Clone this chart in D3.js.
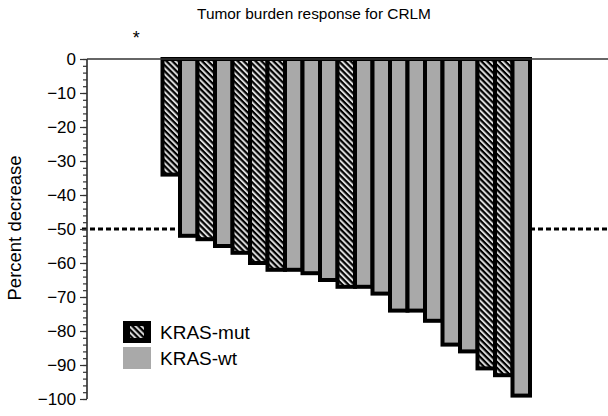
<!DOCTYPE html>
<html>
<head>
<meta charset="utf-8">
<script src="https://cdn.jsdelivr.net/npm/d3@7"></script>
<style>
  body { margin: 0; background: #fff; }
  svg { display: block; font-family: "Liberation Sans", Arial, sans-serif; }
</style>
</head>
<body>
<svg id="chart" width="608" height="416"></svg>
<script>
// patients in waterfall order; the first two slots carry no bar
var patients = ["p1","p2","p3","p4","p5","p6","p7","p8","p9","p10","p11","p12",
  "p13","p14","p15","p16","p17","p18","p19","p20","p21","p22","p23"];
var change = [null, null, -34, -52, -53, -55, -57, -60, -62, -62, -63, -65,
  -67, -67, -69, -74, -74, -77, -84, -86, -91, -93, -99];
var kras = ["", "", "mut", "wt", "mut", "wt", "mut", "mut", "mut", "wt", "wt", "wt",
  "mut", "wt", "wt", "wt", "wt", "wt", "wt", "wt", "mut", "mut", "wt"];
var notes = ["*", "", "", "", "", "", "", "", "", "", "", "", "", "", "", "", "", "", "", "", "", "", ""];
var yTicks = [0, -10, -20, -30, -40, -50, -60, -70, -80, -90, -100];
var cutoff = -50;
var legendLabels = ["KRAS-mut", "KRAS-wt"];

var svg = d3.select("#chart");
var axisX = 87, plotRight = 608;

var y = d3.scaleLinear().domain([-100, 0]).range([399, 59]);
var x = d3.scaleBand().domain(patients).range([127.5, 530]).padding(0);

var defs = svg.append("defs");
var pat = defs.append("pattern")
  .attr("id", "hatch")
  .attr("patternUnits", "userSpaceOnUse")
  .attr("width", 4.2).attr("height", 4.2)
  .attr("patternTransform", "rotate(-45)");
pat.append("rect").attr("width", 4.2).attr("height", 4.2).attr("fill", "#000");
pat.append("rect").attr("width", 2).attr("height", 4.2).attr("fill", "#dcdcdc");

function fillFor(k) { return k == "mut" ? "url(#hatch)" : "#a9a9a9"; }

// title
svg.append("text")
  .attr("x", 314).attr("y", 19)
  .attr("text-anchor", "middle")
  .style("font-size", "15.4px")
  .text("Tumor burden response for CRLM");

// y label
svg.append("text")
  .attr("transform", "translate(21,228) rotate(-90)")
  .attr("text-anchor", "middle")
  .style("font-size", "18.5px")
  .text("Percent decrease");

// cutoff line (behind bars)
svg.append("line")
  .attr("x1", axisX - 5).attr("x2", plotRight)
  .attr("y1", y(cutoff)).attr("y2", y(cutoff))
  .attr("stroke", "#000").attr("stroke-width", 3)
  .attr("stroke-dasharray", "5,3");

var data = patients.map(function (p, i) {
  return { id: p, value: change[i], kras: kras[i], note: notes[i] };
});

svg.selectAll(".bar")
  .data(data.filter(function (d) { return d.value != null; }))
  .enter()
  .append("rect")
  .attr("class", "bar")
  .attr("x", function (d) { return x(d.id); })
  .attr("y", y(0))
  .attr("width", x.bandwidth())
  .attr("height", function (d) { return y(d.value) - y(0); })
  .attr("fill", function (d) { return fillFor(d.kras); })
  .attr("stroke", "#000")
  .attr("stroke-width", 4);

// zero line
svg.append("line")
  .attr("x1", axisX).attr("x2", plotRight)
  .attr("y1", y(0)).attr("y2", y(0))
  .attr("stroke", "#333").attr("stroke-width", 1.5);

// asterisk notes
svg.selectAll(".note")
  .data(data.filter(function (d) { return d.note; }))
  .enter()
  .append("text")
  .attr("x", function (d) { return x(d.id) + x.bandwidth() / 2; })
  .attr("y", 44)
  .attr("text-anchor", "middle")
  .style("font-size", "18px")
  .text(function (d) { return d.note; });

// y axis with minor ticks
var minor = d3.range(0, -101, -2);
var yAxis = svg.append("g").attr("transform", "translate(" + axisX + ",0)");
yAxis.call(d3.axisLeft(y).tickValues(minor).tickSize(4).tickFormat(""));
var major = svg.append("g").attr("transform", "translate(" + axisX + ",0)");
major.call(d3.axisLeft(y).tickValues(yTicks).tickSize(7).tickPadding(4)
  .tickFormat(function (d) { return d == 0 ? "0" : "\u2212" + Math.abs(d); }));
svg.selectAll(".domain").attr("stroke", "#333").attr("stroke-width", 1.2);
svg.selectAll(".tick line").attr("stroke", "#333").attr("stroke-width", 1.2);
major.selectAll("text")
  .style("font-size", "17px")
  .style("font-family", "'Liberation Sans', Arial, sans-serif")
  .attr("fill", "#000");
svg.selectAll(".domain").attr("d", "M0," + y(0) + "V" + y(-100));

// legend
var legend = svg.append("g").attr("transform", "translate(123,321)");
legendLabels.forEach(function (lab, i) {
  var g = legend.append("g").attr("transform", "translate(0," + (i * 26) + ")");
  if (i == 0) {
    g.append("rect").attr("width", 28).attr("height", 22).attr("fill", "#000");
    g.append("rect").attr("x", 7).attr("y", 5).attr("width", 14).attr("height", 12)
      .attr("fill", "url(#hatch)");
  } else {
    g.append("rect").attr("width", 28).attr("height", 22).attr("fill", "#a9a9a9");
  }
  g.append("text")
    .attr("x", 37).attr("y", 18)
    .style("font-size", "19px")
    .text(lab);
});
</script>
</body>
</html>
